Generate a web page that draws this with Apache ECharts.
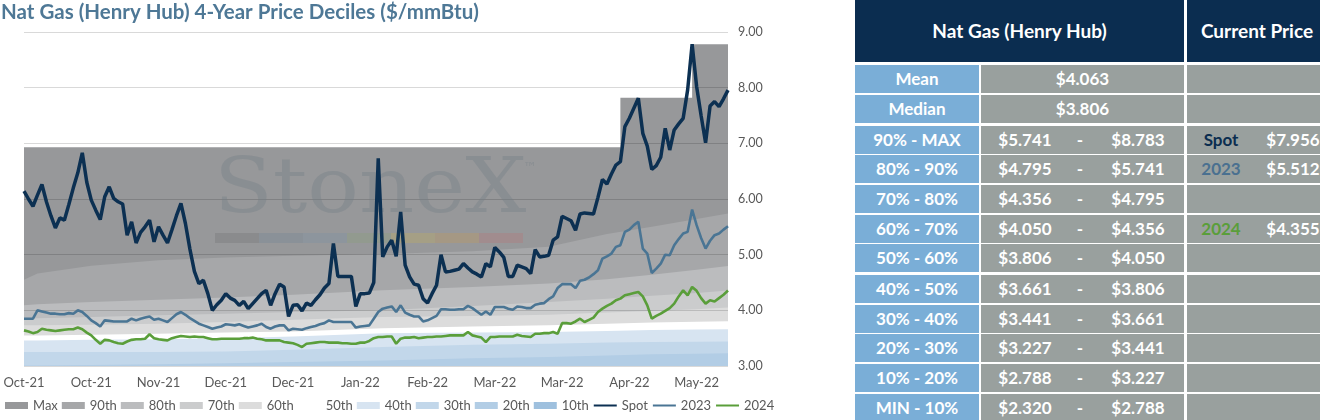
<!DOCTYPE html>
<html>
<head>
<meta charset="utf-8">
<script src="https://cdn.jsdelivr.net/npm/echarts@6/dist/echarts.min.js"></script>
<style>
html, body { margin: 0; padding: 0; width: 1320px; height: 420px; overflow: hidden; background: #fff; font-family: Lato, "Noto Sans", sans-serif; }
#chart { position: absolute; left: 0; top: 0; width: 850px; height: 420px; }
#table { position: absolute; left: 855px; top: 0; width: 480px; height: 420px; }
.cell { position: absolute; box-sizing: border-box; color: #fff; font-weight: bold; font-size: 17px; white-space: nowrap; }
.cell span { position: absolute; top: 0; text-align: center; }
</style>
</head>
<body>
<div id="chart"></div>
<div id="table"></div>
<script>
// daily series, one value per trading day
var spot = [
	6.14, 6.00, 5.87, 6.07, 6.26, 5.95, 5.70, 5.48, 5.66, 5.62,
	5.90, 6.20, 6.47, 6.83, 6.30, 5.98, 5.80, 5.63, 6.04, 6.22,
	6.01, 5.95, 5.91, 5.35, 5.59, 5.21, 5.40, 5.50, 5.62, 5.23,
	5.50, 5.35, 5.21, 5.45, 5.70, 5.92, 5.56, 5.10, 4.70, 4.48,
	4.54, 4.30, 4.00, 4.10, 4.18, 4.30, 4.22, 4.18, 4.09, 4.16,
	4.03, 4.12, 4.21, 4.30, 4.36, 4.09, 4.30, 4.47, 4.42, 3.89,
	4.09, 4.10, 3.99, 4.13, 4.09, 4.19, 4.28, 4.40, 4.48, 5.20,
	4.61, 4.61, 4.61, 4.61, 4.07, 4.30, 4.30, 4.31, 4.50, 6.73,
	4.96, 5.14, 5.26, 4.97, 5.77, 4.81, 4.60, 4.47, 4.45, 4.21,
	4.13, 4.30, 4.45, 5.00, 4.69, 4.70, 4.72, 4.74, 4.84, 4.76,
	4.69, 4.65, 4.60, 4.84, 4.78, 5.13, 5.05, 4.95, 4.61, 4.61,
	4.81, 4.78, 4.75, 4.66, 5.09, 4.96, 4.97, 4.99, 5.26, 5.32,
	5.69, 5.65, 5.61, 5.44, 5.73, 5.75, 5.74, 5.73, 6.03, 6.35,
	6.27, 6.45, 6.61, 6.67, 7.30, 7.45, 7.63, 7.81, 7.18, 6.95,
	6.53, 6.60, 6.75, 7.27, 6.88, 7.24, 7.35, 7.45, 7.96, 8.78,
	8.02, 7.50, 7.01, 7.67, 7.75, 7.66, 7.80, 7.956
];
var strip2023 = [
	3.85, 3.85, 3.85, 4.00, 3.98, 3.96, 3.94, 3.94, 3.93, 3.93,
	3.95, 3.94, 4.00, 3.97, 3.90, 3.82, 3.77, 3.71, 3.82, 3.81,
	3.80, 3.80, 3.80, 3.80, 3.85, 3.82, 3.85, 3.87, 3.89, 3.83,
	3.85, 3.82, 3.79, 3.86, 3.93, 3.97, 3.92, 3.86, 3.81, 3.76,
	3.73, 3.70, 3.67, 3.69, 3.71, 3.75, 3.74, 3.73, 3.75, 3.72,
	3.69, 3.71, 3.73, 3.76, 3.70, 3.67, 3.71, 3.73, 3.73, 3.64,
	3.67, 3.66, 3.65, 3.68, 3.70, 3.72, 3.75, 3.77, 3.82, 3.79,
	3.79, 3.79, 3.79, 3.79, 3.69, 3.71, 3.72, 3.73, 3.85, 3.97,
	4.03, 4.05, 4.07, 3.97, 4.09, 3.96, 3.92, 3.89, 3.89, 3.80,
	3.82, 3.86, 3.90, 4.02, 4.02, 4.01, 4.01, 4.02, 4.02, 4.08,
	4.04, 3.98, 3.92, 3.98, 3.92, 4.06, 4.06, 4.06, 4.03, 4.01,
	4.07, 4.06, 4.04, 4.04, 4.10, 4.12, 4.13, 4.20, 4.25, 4.40,
	4.47, 4.47, 4.47, 4.40, 4.53, 4.55, 4.59, 4.65, 4.72, 4.93,
	4.97, 5.02, 5.14, 5.17, 5.41, 5.45, 5.53, 5.59, 5.11, 5.02,
	4.67, 4.75, 4.84, 5.00, 4.99, 5.17, 5.28, 5.38, 5.41, 5.81,
	5.53, 5.30, 5.11, 5.25, 5.35, 5.38, 5.45, 5.512
];
var strip2024 = [
	3.64, 3.62, 3.59, 3.61, 3.67, 3.65, 3.64, 3.63, 3.64, 3.65,
	3.66, 3.66, 3.69, 3.66, 3.60, 3.55, 3.47, 3.40, 3.47, 3.46,
	3.43, 3.41, 3.40, 3.44, 3.47, 3.48, 3.48, 3.49, 3.57, 3.50,
	3.48, 3.47, 3.46, 3.50, 3.52, 3.54, 3.53, 3.52, 3.53, 3.52,
	3.52, 3.50, 3.48, 3.48, 3.49, 3.49, 3.49, 3.49, 3.49, 3.50,
	3.50, 3.51, 3.49, 3.48, 3.46, 3.46, 3.46, 3.46, 3.43, 3.42,
	3.41, 3.38, 3.34, 3.40, 3.41, 3.42, 3.43, 3.43, 3.42, 3.42,
	3.42, 3.41, 3.41, 3.40, 3.40, 3.42, 3.42, 3.45, 3.50, 3.52,
	3.52, 3.53, 3.53, 3.40, 3.49, 3.51, 3.51, 3.52, 3.50, 3.51,
	3.52, 3.52, 3.53, 3.53, 3.54, 3.55, 3.55, 3.55, 3.55, 3.61,
	3.55, 3.53, 3.51, 3.43, 3.52, 3.52, 3.53, 3.53, 3.53, 3.53,
	3.56, 3.54, 3.53, 3.52, 3.58, 3.58, 3.59, 3.59, 3.61, 3.58,
	3.77, 3.77, 3.76, 3.80, 3.85, 3.79, 3.83, 3.87, 3.97, 4.03,
	4.08, 4.12, 4.18, 4.21, 4.27, 4.29, 4.31, 4.33, 4.25, 4.09,
	3.85, 3.90, 3.94, 3.99, 4.04, 4.12, 4.25, 4.36, 4.27, 4.42,
	4.35, 4.22, 4.12, 4.18, 4.16, 4.22, 4.28, 4.355
];

// rolling 4-year deciles, read at these day indexes
var bandIdx = [0, 3, 15, 30, 45, 60, 80, 100, 117, 130, 140, 150, 157];
var p90 = [4.55, 4.66, 4.80, 4.90, 4.95, 4.98, 5.01, 5.06, 5.14, 5.37, 5.50, 5.64, 5.741];
var p80 = [4.09, 4.11, 4.15, 4.19, 4.23, 4.28, 4.36, 4.42, 4.48, 4.56, 4.64, 4.73, 4.795];
var p70 = [3.85, 3.86, 3.88, 3.91, 3.94, 3.97, 4.00, 4.08, 4.15, 4.21, 4.26, 4.31, 4.356];
var p60 = [3.73, 3.73, 3.74, 3.76, 3.79, 3.83, 3.88, 3.90, 3.92, 3.96, 3.99, 4.02, 4.050];
var p50 = [3.55, 3.55, 3.56, 3.58, 3.60, 3.62, 3.68, 3.71, 3.73, 3.76, 3.78, 3.795, 3.806];
var p40 = [3.46, 3.46, 3.47, 3.48, 3.50, 3.53, 3.59, 3.60, 3.61, 3.63, 3.645, 3.655, 3.661];
var p30 = [3.25, 3.25, 3.25, 3.25, 3.26, 3.29, 3.34, 3.38, 3.40, 3.42, 3.43, 3.437, 3.441];
var p20 = [3.01, 3.01, 3.02, 3.03, 3.05, 3.07, 3.10, 3.14, 3.16, 3.19, 3.21, 3.22, 3.227];
var p10 = [2.55, 2.56, 2.58, 2.60, 2.62, 2.64, 2.68, 2.72, 2.74, 2.76, 2.77, 2.78, 2.788];
// running max (steps)
var maxIdx = [0, 133, 149, 157];
var maxVal = [6.93, 7.82, 8.78, 8.783];

var bandNames = ['Max', '90th', '80th', '70th', '60th', '50th', '40th', '30th', '20th', '10th'];
var bandColors = ['#97989a', '#a6a7a9', '#bbbcbe', '#cbcccd', '#dcdcdc', '#ffffff', '#d7e4f1', '#c2d7ea', '#b2cde5', '#9ec0de'];

// table
var rowLabels = ['Mean', 'Median', '90% - MAX', '80% - 90%', '70% - 80%', '60% - 70%', '50% - 60%', '40% - 50%', '30% - 40%', '20% - 30%', '10% - 20%', 'MIN - 10%'];
var rowLow = [4.063, 3.806, 5.741, 4.795, 4.356, 4.050, 3.806, 3.661, 3.441, 3.227, 2.788, 2.320];
var rowHigh = [null, null, 8.783, 5.741, 4.795, 4.356, 4.050, 3.806, 3.661, 3.441, 3.227, 2.788];
var curName = ['', '', 'Spot', '2023', '', '2024', '', '', '', '', '', ''];
var curPrice = [null, null, 7.956, 5.512, null, 4.355, null, null, null, null, null, null];
var curColor = { 'Spot': '#0b2d50', '2023': '#4a7090', '2024': '#5a9e3a' };

var MONTHS = ['Jan', 'Feb', 'Mar', 'Apr', 'May', 'Jun', 'Jul', 'Aug', 'Sep', 'Oct', 'Nov', 'Dec'];
var holidays = ['2021-11-25', '2021-12-24', '2021-12-31', '2022-01-17', '2022-02-21'];
var dates = [];
(function() {
	var d = new Date(2021, 9, 1);
	while (dates.length < spot.length) {
		var s = d.getFullYear() + '-' + ('0' + (d.getMonth() + 1)).slice(-2) + '-' + ('0' + d.getDate()).slice(-2);
		if (d.getDay() != 0 && d.getDay() != 6 && holidays.indexOf(s) < 0) {
			dates.push(s);
		}
		d.setDate(d.getDate() + 1);
	}
})();

function pairs(idx, vals) {
	var out = [];
	for (var i = 0; i < idx.length; i++) {
		out.push([idx[i], vals[i]]);
	}
	return out;
}

var bandData = [
	pairs(maxIdx, maxVal), pairs(bandIdx, p90), pairs(bandIdx, p80), pairs(bandIdx, p70), pairs(bandIdx, p60),
	pairs(bandIdx, p50), pairs(bandIdx, p40), pairs(bandIdx, p30), pairs(bandIdx, p20), pairs(bandIdx, p10)
];

var series = [];
var legendData = [];
for (var i = 0; i < bandNames.length; i++) {
	series.push({
		name: bandNames[i],
		type: 'line',
		xAxisIndex: 1,
		data: bandData[i],
		step: i == 0 ? 'end' : false,
		symbol: 'none',
		silent: true,
		color: bandColors[i],
		itemStyle: { color: bandColors[i] },
		lineStyle: { width: 0, color: bandColors[i] },
		areaStyle: { color: bandColors[i], opacity: 1, origin: 'start' },
		z: 2
	});
	legendData.push({ name: bandNames[i], icon: 'rect' });
}
var lines = [
	{ name: 'Spot', data: spot, color: '#0c3052', width: 3.5 },
	{ name: '2023', data: strip2023, color: '#4a7594', width: 2.6 },
	{ name: '2024', data: strip2024, color: '#5a9e3a', width: 2.6 }
];
for (var j = 0; j < lines.length; j++) {
	series.push({
		name: lines[j].name,
		type: 'line',
		xAxisIndex: 0,
		data: lines[j].data,
		symbol: 'none',
		color: lines[j].color,
		lineStyle: { color: lines[j].color, width: lines[j].width },
		z: 5
	});
	legendData.push({ name: lines[j].name, itemStyle: { opacity: 0 } });
}

// watermark
var wmColors = ['#4a4a4a', '#4a6f8c', '#5b86ad', '#7aa85a', '#f0c419', '#f39c12', '#d9534f'];
var graphics = [
	{ type: 'text', z: 4, silent: true, x: 214, y: 192, scaleX: 1.13, style: { text: 'StoneX', x: 0, y: 0, fontFamily: '"DejaVu Serif", serif', fontSize: 76, fill: 'rgba(115,125,135,0.38)', verticalAlign: 'middle' } },
	{ type: 'text', z: 4, silent: true, style: { text: '\u2122', x: 523, y: 168, fontFamily: '"DejaVu Sans", sans-serif', fontSize: 14, fill: 'rgba(115,125,135,0.38)', verticalAlign: 'middle' } }
];
for (var k = 0; k < wmColors.length; k++) {
	graphics.push({ type: 'rect', z: 4, silent: true, shape: { x: 215 + k * 44, y: 233, width: 44, height: 10 }, style: { fill: wmColors[k], opacity: 0.16 } });
}

var chart = echarts.init(document.getElementById('chart'));
chart.setOption({
	animation: false,
	title: {
		text: 'Nat Gas (Henry Hub) 4-Year Price Deciles ($/mmBtu)',
		left: 1, top: 2, padding: 0,
		textStyle: { fontFamily: 'Lato', fontWeight: 'bold', fontSize: 20.5, color: '#4e7896' }
	},
	legend: {
		data: legendData,
		left: 5, top: 399, padding: 0,
		itemWidth: 23, itemHeight: 7, itemGap: 4,
		selectedMode: false,
		textStyle: { fontFamily: 'Lato', fontSize: 13, color: '#595959', width: 27 }
	},
	grid: { left: 24, right: 122, top: 32, bottom: 54, outerBoundsMode: 'none', containLabel: false },
	xAxis: [{
		type: 'category',
		data: dates,
		boundaryGap: false,
		axisLine: { show: false },
		axisTick: { show: false },
		axisLabel: {
			interval: 14, margin: 10,
			fontFamily: 'Lato', fontSize: 13, color: '#595959',
			formatter: function(v) {
				var p = v.split('-');
				return MONTHS[+p[1] - 1] + '-' + p[0].slice(2);
			}
		}
	}, {
		type: 'value', min: 0, max: spot.length - 1, show: false
	}],
	yAxis: {
		type: 'value', position: 'right', min: 3, max: 9, interval: 1, z: 3,
		axisLine: { show: false },
		axisTick: { show: false },
		axisLabel: { margin: 10, fontFamily: 'Lato', fontSize: 12.5, color: '#595959', formatter: function(v) { return v.toFixed(2); } },
		splitLine: { lineStyle: { color: 'rgba(0,0,0,0.15)', width: 1 } }
	},
	graphic: { elements: graphics },
	series: series
});

// table on the right
var tbl = document.getElementById('table');
function cell(left, y, width, height, bg) {
	var c = document.createElement('div');
	c.className = 'cell';
	c.style.left = left + 'px'; c.style.top = y + 'px';
	c.style.width = width + 'px'; c.style.height = height + 'px';
	c.style.lineHeight = height + 'px';
	c.style.background = bg;
	tbl.appendChild(c);
	return c;
}
function put(c, text, left, width, color) {
	var s = document.createElement('span');
	s.textContent = text;
	s.style.left = left + 'px'; s.style.width = width + 'px';
	if (color) s.style.color = color;
	c.appendChild(s);
}
var navy = '#0b2d50', blue = '#7aaed7', grey = '#99a09e';
var h1 = cell(0, 0, 329, 62, navy); h1.style.fontSize = '19px';
put(h1, 'Nat Gas (Henry Hub)', 0, 329);
var h2 = cell(332, 0, 150, 62, navy); h2.style.fontSize = '19px';
put(h2, 'Current Price', 0, 140);
for (var r = 0; r < rowLabels.length; r++) {
	var rowTop = 65 + r * 29.6 + (r >= 2 ? 1.5 : 0) + (r >= 7 ? 1.5 : 0);
	var lc = cell(0, rowTop, 124, 28, blue);
	put(lc, rowLabels[r], 0, 124);
	var vc = cell(126, rowTop, 203, 28, grey);
	if (rowHigh[r] == null) {
		put(vc, '$' + rowLow[r].toFixed(3), 0, 203);
	} else {
		put(vc, '$' + rowLow[r].toFixed(3), 4, 80);
		put(vc, '-', 89, 20);
		put(vc, '$' + rowHigh[r].toFixed(3), 117, 80);
	}
	var pc = cell(332, rowTop, 150, 28, grey);
	if (curPrice[r] != null) {
		put(pc, curName[r], 0, 68, curColor[curName[r]]);
		put(pc, '$' + curPrice[r].toFixed(3), 66, 80);
	}
}
</script>
</body>
</html>
